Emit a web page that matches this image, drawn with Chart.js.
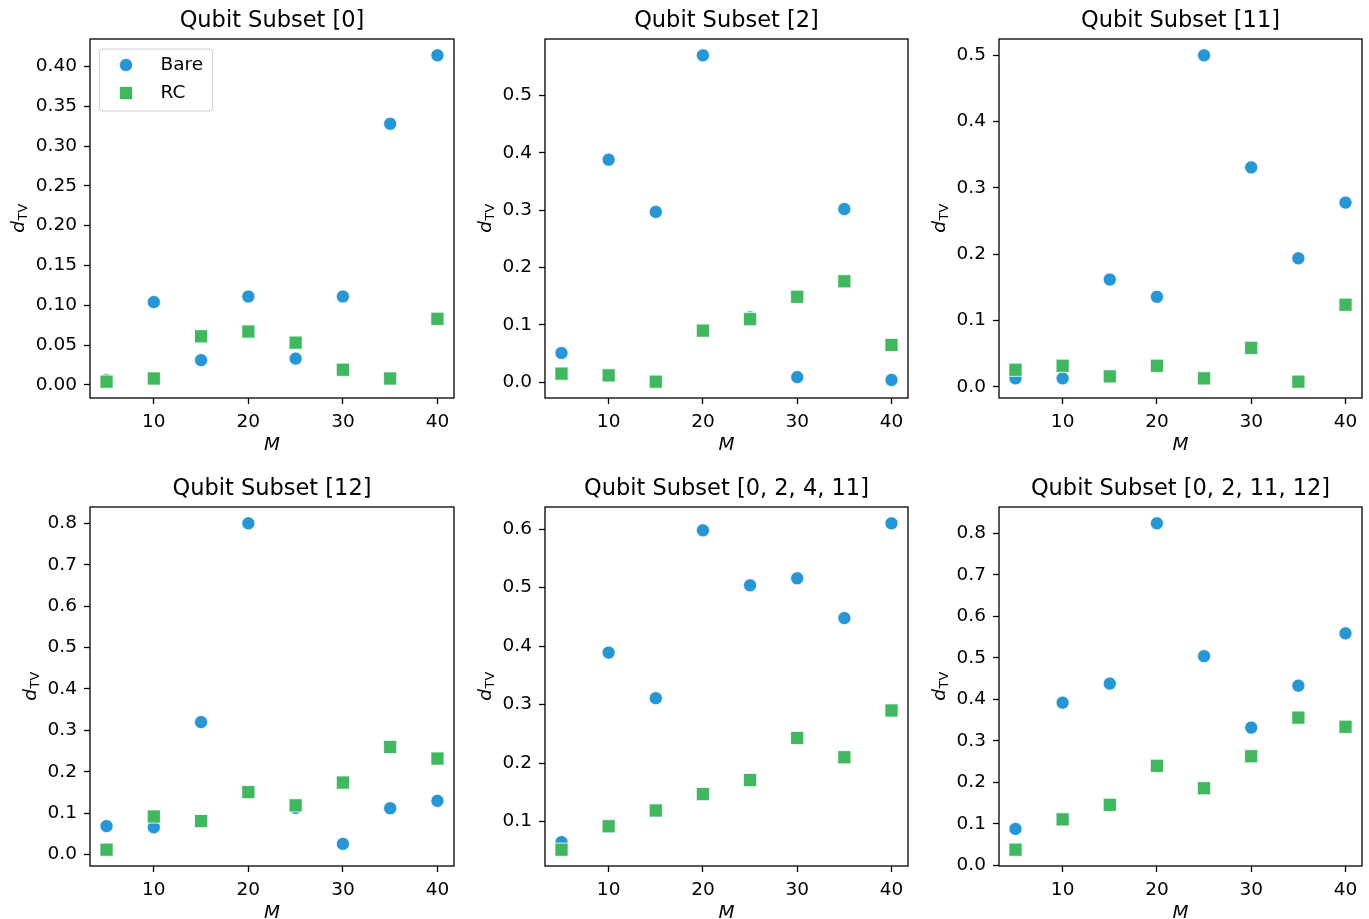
<!DOCTYPE html>
<html>
<head>
<meta charset="utf-8">
<script src="https://cdn.jsdelivr.net/npm/chart.js@4.4.1/dist/chart.umd.min.js"></script>
<style>
  html, body { margin: 0; padding: 0; background: #fff; overflow: hidden; }
  #fig { position: relative; width: 1369px; height: 919px; }
  .panel { position: absolute; }
</style>
</head>
<body>
<div id="fig"></div>
<script>
// --- DATA ---
const depths = [5, 10, 15, 20, 25, 30, 35, 40];
const xTickLabels = ['10', '20', '30', '40'];

const titles = ['Qubit Subset [0]', 'Qubit Subset [2]', 'Qubit Subset [11]',
                'Qubit Subset [12]', 'Qubit Subset [0, 2, 4, 11]', 'Qubit Subset [0, 2, 11, 12]'];

const bareQ0 = [0.006, 0.104, 0.031, 0.111, 0.033, 0.111, 0.328, 0.414];
const rcQ0   = [0.004, 0.008, 0.061, 0.067, 0.053, 0.019, 0.008, 0.083];

const bareQ2 = [0.051, 0.388, 0.297, 0.570, 0.113, 0.009, 0.302, 0.004];
const rcQ2   = [0.015, 0.012, 0.001, 0.090, 0.110, 0.149, 0.176, 0.065];

const bareQ11 = [0.013, 0.013, 0.162, 0.136, 0.500, 0.331, 0.194, 0.278];
const rcQ11   = [0.026, 0.032, 0.016, 0.032, 0.013, 0.059, 0.008, 0.124];

const bareQ12 = [0.069, 0.066, 0.320, 0.800, 0.113, 0.026, 0.112, 0.130];
const rcQ12   = [0.012, 0.092, 0.081, 0.151, 0.119, 0.174, 0.260, 0.232];

const bareQ0_2_4_11 = [0.065, 0.389, 0.311, 0.598, 0.504, 0.516, 0.448, 0.610];
const rcQ0_2_4_11   = [0.052, 0.092, 0.119, 0.147, 0.171, 0.243, 0.210, 0.290];

const bareQ0_2_11_12 = [0.088, 0.392, 0.438, 0.824, 0.504, 0.332, 0.433, 0.559];
const rcQ0_2_11_12   = [0.038, 0.111, 0.146, 0.240, 0.186, 0.263, 0.356, 0.334];

const yTicksQ0 = ['0.00', '0.05', '0.10', '0.15', '0.20', '0.25', '0.30', '0.35', '0.40'];
const yTicksQ2 = ['0.0', '0.1', '0.2', '0.3', '0.4', '0.5'];
const yTicksQ11 = ['0.0', '0.1', '0.2', '0.3', '0.4', '0.5'];
const yTicksQ12 = ['0.0', '0.1', '0.2', '0.3', '0.4', '0.5', '0.6', '0.7', '0.8'];
const yTicksQ0_2_4_11 = ['0.1', '0.2', '0.3', '0.4', '0.5', '0.6'];
const yTicksQ0_2_11_12 = ['0.0', '0.1', '0.2', '0.3', '0.4', '0.5', '0.6', '0.7', '0.8'];

// --- STYLE / LAYOUT ---
const BLUE = '#2697d4';
const GREEN = '#41b760';
const FONT = '"DejaVu Sans", "Liberation Sans", sans-serif';
const TICK_SIZE = 18.5;
const TITLE_SIZE = 22.5;

const panels = [
  { title: titles[0], bare: bareQ0, rc: rcQ0, yTicks: yTicksQ0, legend: true },
  { title: titles[1], bare: bareQ2, rc: rcQ2, yTicks: yTicksQ2 },
  { title: titles[2], bare: bareQ11, rc: rcQ11, yTicks: yTicksQ11 },
  { title: titles[3], bare: bareQ12, rc: rcQ12, yTicks: yTicksQ12 },
  { title: titles[4], bare: bareQ0_2_4_11, rc: rcQ0_2_4_11, yTicks: yTicksQ0_2_4_11 },
  { title: titles[5], bare: bareQ0_2_11_12, rc: rcQ0_2_11_12, yTicks: yTicksQ0_2_11_12 }
];

// canvas boxes and axes rectangles in page pixels
const cols = [
  { x0: 0,   w: 460, L: 90,  R: 454 },
  { x0: 462, w: 456, L: 545, R: 908 },
  { x0: 918, w: 451, L: 999, R: 1362 }
];
const rows = [
  { y0: 0,   h: 460, T: 39,  B: 398 },
  { y0: 460, h: 459, T: 507, B: 866 }
];

// spines, axis labels and the legend
const framePlugin = {
  id: 'frame',
  afterDatasetsDraw(chart) {
    const { ctx, chartArea: a } = chart;
    ctx.save();
    ctx.strokeStyle = '#000';
    ctx.lineWidth = 1.3;
    ctx.strokeRect(a.left, a.top, a.right - a.left, a.bottom - a.top);
    ctx.restore();
  },
  afterDraw(chart, args, opts) {
    const { ctx, chartArea: a } = chart;
    const yScale = chart.scales.y;
    ctx.save();
    ctx.fillStyle = '#000';

    // x label
    ctx.font = 'italic ' + TICK_SIZE + 'px ' + FONT;
    ctx.textAlign = 'center';
    ctx.textBaseline = 'alphabetic';
    ctx.fillText('M', (a.left + a.right) / 2, a.bottom + 52);

    // y label: d with subscript TV
    ctx.font = TICK_SIZE + 'px ' + FONT;
    let maxW = 0;
    yScale.ticks.forEach(t => { maxW = Math.max(maxW, ctx.measureText(t.label).width); });
    const baseX = a.left - 6 - 7 - maxW - 12;
    const midY = (a.top + a.bottom) / 2;
    const mainFont = 'italic ' + TICK_SIZE + 'px ' + FONT;
    const subFont = '12.8px ' + FONT;
    ctx.font = mainFont;
    const dW = ctx.measureText('d').width;
    ctx.font = subFont;
    const sW = ctx.measureText('TV').width;
    ctx.translate(baseX, midY);
    ctx.rotate(-Math.PI / 2);
    ctx.textAlign = 'left';
    const start = -(dW + sW) / 2;
    ctx.font = mainFont;
    ctx.fillText('d', start, 0);
    ctx.font = subFont;
    ctx.fillText('TV', start + dW + 0.5, 3.5);
    ctx.setTransform(1, 0, 0, 1, 0, 0);

    // legend
    if (opts.legend) {
      const bx = a.left + 9.5, by = a.top + 10, bw = 113, bh = 62, r = 3.5;
      ctx.beginPath();
      ctx.moveTo(bx + r, by);
      ctx.arcTo(bx + bw, by, bx + bw, by + bh, r);
      ctx.arcTo(bx + bw, by + bh, bx, by + bh, r);
      ctx.arcTo(bx, by + bh, bx, by, r);
      ctx.arcTo(bx, by, bx + bw, by, r);
      ctx.closePath();
      ctx.fillStyle = 'rgba(255,255,255,0.8)';
      ctx.fill();
      ctx.strokeStyle = '#cccccc';
      ctx.lineWidth = 1;
      ctx.stroke();

      chart.data.datasets.forEach((ds, k) => {
        const my = a.top + 26 + k * 28;
        const mx = a.left + 36;
        ctx.fillStyle = ds.backgroundColor;
        ctx.strokeStyle = '#fff';
        ctx.lineWidth = 0.8;
        ctx.beginPath();
        if (ds.pointStyle === 'rect') {
          const s = ds.pointRadius * Math.SQRT1_2;
          ctx.rect(mx - s, my - s, 2 * s, 2 * s);
        } else {
          ctx.arc(mx, my, ds.pointRadius, 0, Math.PI * 2);
        }
        ctx.fill();
        ctx.stroke();
        ctx.fillStyle = '#000';
        ctx.font = TICK_SIZE + 'px ' + FONT;
        ctx.textAlign = 'left';
        ctx.textBaseline = 'alphabetic';
        ctx.fillText(ds.label, a.left + 70.5, a.top + 31 + k * 28.3);
      });
    }
    ctx.restore();
  }
};

const fig = document.getElementById('fig');

panels.forEach((p, i) => {
  const col = cols[i % 3];
  const row = rows[Math.floor(i / 3)];
  const canvas = document.createElement('canvas');
  canvas.width = col.w;
  canvas.height = row.h;
  canvas.className = 'panel';
  canvas.style.left = col.x0 + 'px';
  canvas.style.top = row.y0 + 'px';
  fig.appendChild(canvas);

  // matplotlib-style 5% margins around the data
  const all = p.bare.concat(p.rc);
  const lo = Math.min(...all), hi = Math.max(...all);
  const ym = (hi - lo) * 0.05;
  const xLo = Math.min(...depths), xHi = Math.max(...depths);
  const xm = (xHi - xLo) * 0.05;
  const decimals = p.yTicks[0].split('.')[1].length;

  const tickCommon = {
    color: '#000',
    font: { family: FONT, size: TICK_SIZE, lineHeight: 1.2 }
  };
  const gridCommon = {
    drawOnChartArea: false,
    drawTicks: true,
    tickLength: 6,
    tickWidth: 1.3,
    tickColor: '#000'
  };

  new Chart(canvas, {
    type: 'scatter',
    data: {
      datasets: [
        {
          label: 'Bare',
          data: depths.map((x, k) => ({ x: x, y: p.bare[k] })),
          pointStyle: 'circle',
          pointRadius: 6.6,
          backgroundColor: BLUE,
          borderColor: '#fff',
          borderWidth: 0.8,
          order: 1
        },
        {
          label: 'RC',
          data: depths.map((x, k) => ({ x: x, y: p.rc[k] })),
          pointStyle: 'rect',
          pointRadius: 9.3,
          backgroundColor: GREEN,
          borderColor: '#fff',
          borderWidth: 0.8,
          order: 0
        }
      ]
    },
    options: {
      responsive: false,
      animation: false,
      devicePixelRatio: 1,
      events: [],
      layout: {
        autoPadding: false,
        padding: { left: 0, top: 0, bottom: 0, right: col.x0 + col.w - col.R }
      },
      plugins: {
        legend: { display: false },
        tooltip: { enabled: false },
        frame: { legend: !!p.legend },
        title: {
          display: true,
          text: p.title,
          fullSize: false,
          color: '#000',
          font: { family: FONT, size: TITLE_SIZE, weight: 'normal', lineHeight: 1 },
          padding: { top: row.T - row.y0 - TITLE_SIZE - 6.5, bottom: 6.5 }
        }
      },
      scales: {
        x: {
          type: 'linear',
          min: xLo - xm,
          max: xHi + xm,
          afterBuildTicks: s => { s.ticks = xTickLabels.map(t => ({ value: parseFloat(t) })); },
          afterFit: s => { s.height = row.y0 + row.h - row.B; },
          ticks: Object.assign({ padding: 7, maxRotation: 0, callback: v => String(v) }, tickCommon),
          grid: gridCommon,
          border: { display: false }
        },
        y: {
          type: 'linear',
          min: lo - ym,
          max: hi + ym,
          afterBuildTicks: s => { s.ticks = p.yTicks.map(t => ({ value: parseFloat(t) })); },
          afterFit: s => { s.width = col.L - col.x0; },
          ticks: Object.assign({ padding: 7, callback: v => v.toFixed(decimals) }, tickCommon),
          grid: gridCommon,
          border: { display: false }
        }
      }
    },
    plugins: [framePlugin]
  });
});
</script>
</body>
</html>
